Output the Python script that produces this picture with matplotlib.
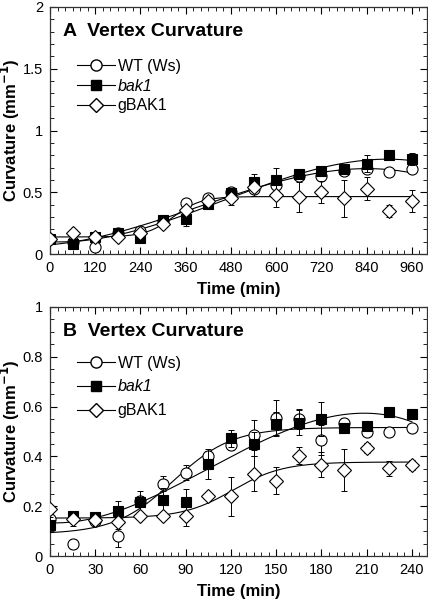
import numpy as np
import matplotlib
matplotlib.use("Agg")
import matplotlib.pyplot as plt
from matplotlib.lines import Line2D
from matplotlib.ticker import MultipleLocator, FuncFormatter

plt.rcParams['font.family'] = ['Liberation Sans', 'DejaVu Sans']

# ---------------- Panel A data ----------------
tA = [0, 60, 120, 180, 240, 300, 360, 420, 480, 540, 600, 660, 720, 780, 840, 900, 960]
wtA = [0.12, 0.10, 0.06, 0.17, 0.19, 0.27, 0.41, 0.45, 0.50, 0.53, 0.56, 0.63, 0.63, 0.67, 0.69, 0.66, 0.69]
wtA_err = [0.02, 0.02, 0.02, 0.02, 0.02, 0.02, 0.02, 0.02, 0.02, 0.03, 0.05, 0.03, 0.03, 0.03, 0.03, 0.02, 0.03]
bakA = [0.12, 0.08, 0.135, 0.17, 0.13, 0.275, 0.28, 0.405, 0.49, 0.58, 0.60, 0.65, 0.67, 0.69, 0.73, 0.80, 0.77]
bakA_err = [0.02, 0.03, 0.02, 0.02, 0.02, 0.02, 0.05, 0.02, 0.03, 0.07, 0.10, 0.04, 0.03, 0.04, 0.07, 0.02, 0.05]
gA = [0.12, 0.17, 0.135, 0.135, 0.17, 0.24, 0.36, 0.43, 0.45, 0.54, 0.48, 0.46, 0.505, 0.45, 0.53, 0.35, 0.43]
gA_err = [0.02, 0.02, 0.02, 0.02, 0.02, 0.02, 0.02, 0.03, 0.05, 0.07, 0.10, 0.12, 0.09, 0.15, 0.09, 0.05, 0.09]

# ---------------- Panel B data ----------------
tB = [0, 15, 30, 45, 60, 75, 90, 105, 120, 135, 150, 165, 180, 195, 210, 225, 240]
wtB = [0.15, 0.05, 0.14, 0.08, 0.22, 0.29, 0.335, 0.40, 0.445, 0.487, 0.555, 0.55, 0.466, 0.533, 0.50, 0.50, 0.516]
wtB_err = [0.02, 0.02, 0.02, 0.045, 0.02, 0.03, 0.03, 0.02, 0.02, 0.06, 0.07, 0.04, 0.06, 0.02, 0.02, 0.01, 0.01]
bakB = [0.125, 0.16, 0.158, 0.182, 0.218, 0.225, 0.218, 0.369, 0.473, 0.45, 0.53, 0.536, 0.55, 0.513, 0.523, 0.578, 0.57]
bakB_err = [0.03, 0.02, 0.01, 0.04, 0.045, 0.05, 0.05, 0.06, 0.035, 0.05, 0.05, 0.05, 0.07, 0.02, 0.02, 0.01, 0.02]
gB = [0.188, 0.149, 0.145, 0.138, 0.161, 0.161, 0.161, 0.239, 0.239, 0.33, 0.303, 0.403, 0.366, 0.346, 0.433, 0.353, 0.366]
gB_err = [0.01, 0.03, 0.01, 0.03, 0.01, 0.01, 0.04, 0.01, 0.08, 0.07, 0.055, 0.035, 0.05, 0.085, 0.02, 0.03, 0.02]

labels = ['WT (Ws)', 'bak1', 'gBAK1']


def polyfit(t, y, deg=3):
    p = np.polyfit(t, y, deg)
    return lambda x: np.polyval(p, x)


def sigfit(t, y):
    t = np.asarray(t, float)
    y = np.asarray(y, float)
    span = t.max() - t.min()
    best = None
    for t0 in np.linspace(t.min() - 0.2 * span, t.max() + 0.2 * span, 120):
        for k in np.linspace(span / 50, span / 1.6, 100):
            s = 1.0 / (1.0 + np.exp(-(t - t0) / k))
            M = np.column_stack([np.ones_like(t), s])
            coef, *_ = np.linalg.lstsq(M, y, rcond=None)
            sse = np.sum((M @ coef - y) ** 2)
            if best is None or sse < best[0]:
                best = (sse, t0, k, coef)
    _, t0, k, coef = best
    return lambda x: coef[0] + coef[1] / (1.0 + np.exp(-(x - t0) / k))


fig = plt.figure(figsize=(4.28, 6.0), dpi=100)
axA = fig.add_axes([50 / 428, 1 - 254 / 600, 377 / 428, 247 / 600])
axB = fig.add_axes([50 / 428, 1 - 556 / 600, 377 / 428, 249 / 600])

styles = [
    dict(marker='o', mfc='white', mec='black', ms=8.0),
    dict(marker='s', mfc='black', mec='black', ms=7.5),
    dict(marker='D', mfc='white', mec='black', ms=7.0),
]


def draw(ax, t, series, errs, fits, xmax, xmaj, xmin_, ymax, ymaj, ymin_, title, legy, lspace):
    t = np.asarray(t, float)
    xx = np.linspace(0, t.max(), 300)
    for f in fits:
        ax.plot(xx, f(xx), color='black', lw=0.8, zorder=2)
    for i, (y, e) in enumerate(zip(series, errs)):
        ax.errorbar(t, y, yerr=e, fmt='none', ecolor='black', elinewidth=0.7,
                    capsize=2, capthick=0.7, zorder=3 + i)
        ax.plot(t, y, ls='none', mew=0.8, zorder=3 + i, **styles[i])
    ax.set_xlim(0, xmax)
    ax.set_ylim(0, ymax)
    ax.xaxis.set_major_locator(MultipleLocator(xmaj))
    ax.xaxis.set_minor_locator(MultipleLocator(xmin_))
    ax.yaxis.set_major_locator(MultipleLocator(ymaj))
    ax.yaxis.set_minor_locator(MultipleLocator(ymin_))
    ax.yaxis.set_major_formatter(FuncFormatter(lambda v, p: f'{v:g}'))
    ax.tick_params(which='both', direction='in', top=True, right=True, labelsize=10.5, pad=5)
    ax.tick_params(which='major', length=5, width=0.8)
    ax.tick_params(which='minor', length=3, width=0.6)
    for sp in ax.spines.values():
        sp.set_linewidth(0.9)
        sp.set_color('#333333')
    ax.set_xlabel('Time (min)', fontsize=12, fontweight='bold', labelpad=5)
    ax.set_ylabel('Curvature (mm$\\mathbf{^{-1}}$)', fontsize=12, fontweight='bold')
    ax.yaxis.set_label_coords(-0.106, 0.5)
    ax.yaxis.label.set_verticalalignment('center')
    ax.text(0.035, 0.935, title, transform=ax.transAxes, fontsize=14, fontweight='bold',
            va='top', ha='left')
    handles = [Line2D([0], [0], color='black', lw=0.8, **styles[i]) for i in range(3)]
    leg = ax.legend(handles, labels, loc='upper left', bbox_to_anchor=(0.072, legy), frameon=False,
                    fontsize=11.5, handlelength=2.4, handletextpad=0.15, labelspacing=lspace,
                    borderaxespad=0, borderpad=0)
    leg.get_texts()[1].set_fontstyle('italic')


fitsA = [polyfit(tA, wtA), polyfit(tA, bakA), sigfit(tA, gA)]
fitsB = [sigfit(tB, wtB), polyfit(tB, bakB), sigfit(tB, gB)]

draw(axA, tA, [wtA, bakA, gA], [wtA_err, bakA_err, gA_err], fitsA,
     1000, 120, 20, 2.0, 0.5, 0.1, 'A  Vertex Curvature', 0.79, 0.3)
draw(axB, tB, [wtB, bakB, gB], [wtB_err, bakB_err, gB_err], fitsB,
     250, 30, 5, 1.0, 0.2, 0.05, 'B  Vertex Curvature', 0.805, 0.55)

fig.savefig('out.png', dpi=100)
